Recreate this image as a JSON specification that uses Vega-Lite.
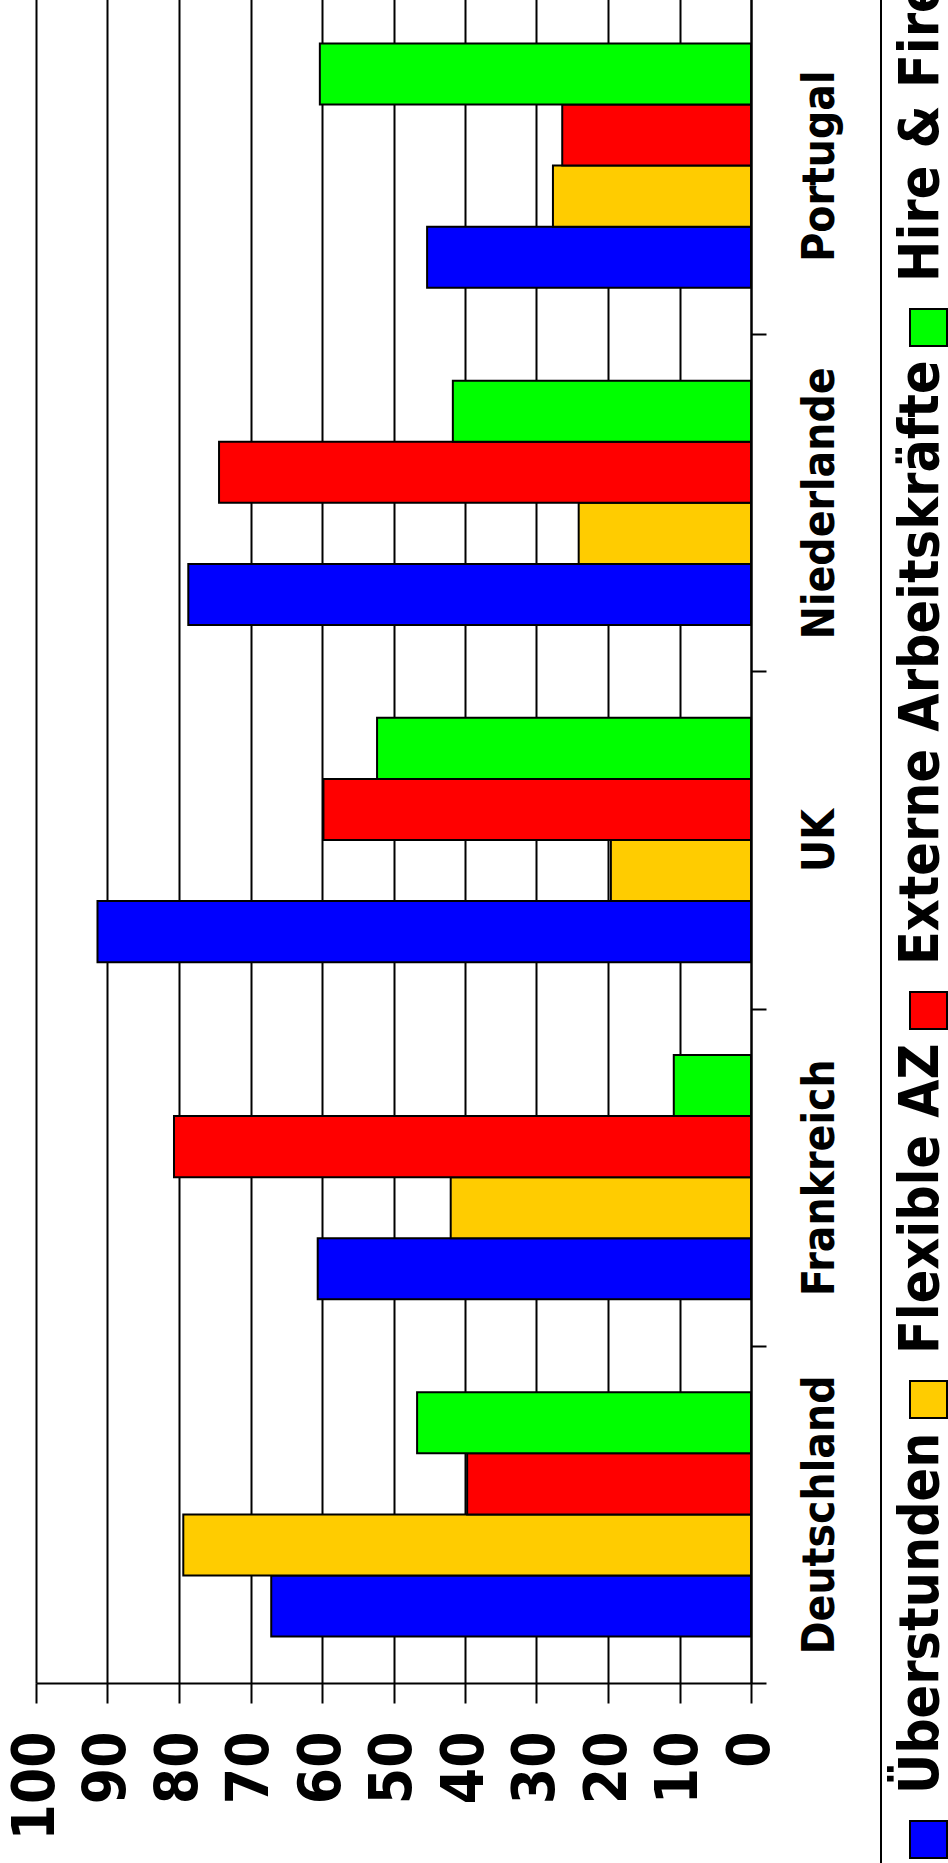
{
  "$schema": "https://vega.github.io/schema/vega-lite/v6.json",
  "autosize": {"type": "none"},
  "width": 715,
  "height": 1686,
  "padding": {"left": 36, "top": -3, "right": 197, "bottom": 180},
  "background": "white",
  "config": {"view": {"stroke": null}, "font": "DejaVu Sans Condensed"},
  "data": {"values": [
    {"Land": "Deutschland", "Art": "Überstunden", "Wert": 67.1},
    {"Land": "Deutschland", "Art": "Flexible AZ", "Wert": 79.4},
    {"Land": "Deutschland", "Art": "Externe Arbeitskräfte", "Wert": 39.7},
    {"Land": "Deutschland", "Art": "Hire & Fire", "Wert": 46.7},
    {"Land": "Frankreich", "Art": "Überstunden", "Wert": 60.6},
    {"Land": "Frankreich", "Art": "Flexible AZ", "Wert": 42.0},
    {"Land": "Frankreich", "Art": "Externe Arbeitskräfte", "Wert": 80.7},
    {"Land": "Frankreich", "Art": "Hire & Fire", "Wert": 10.8},
    {"Land": "UK", "Art": "Überstunden", "Wert": 91.4},
    {"Land": "UK", "Art": "Flexible AZ", "Wert": 19.6},
    {"Land": "UK", "Art": "Externe Arbeitskräfte", "Wert": 59.8},
    {"Land": "UK", "Art": "Hire & Fire", "Wert": 52.3},
    {"Land": "Niederlande", "Art": "Überstunden", "Wert": 78.7},
    {"Land": "Niederlande", "Art": "Flexible AZ", "Wert": 24.1},
    {"Land": "Niederlande", "Art": "Externe Arbeitskräfte", "Wert": 74.4},
    {"Land": "Niederlande", "Art": "Hire & Fire", "Wert": 41.7},
    {"Land": "Portugal", "Art": "Überstunden", "Wert": 45.3},
    {"Land": "Portugal", "Art": "Flexible AZ", "Wert": 27.7},
    {"Land": "Portugal", "Art": "Externe Arbeitskräfte", "Wert": 26.4},
    {"Land": "Portugal", "Art": "Hire & Fire", "Wert": 60.3}
  ]},
  "mark": {"type": "bar", "stroke": "black", "strokeWidth": 2},
  "encoding": {
    "x": {
      "field": "Wert", "type": "quantitative",
      "scale": {"domain": [0, 100], "reverse": true, "nice": false},
      "axis": {
        "orient": "bottom", "title": null, "values": [0, 10, 20, 30, 40, 50, 60, 70, 80, 90, 100],
        "labelAngle": -90, "labelAlign": "right", "labelBaseline": "middle",
        "labelFont": "DejaVu Sans Condensed", "labelFontSize": 58, "labelFontWeight": "bold", "labelColor": "black",
        "labelPadding": 28, "labelFlush": false, "labelOverlap": false,
        "tickSize": 20, "tickColor": "black", "tickWidth": 2,
        "domainColor": "black", "domainWidth": 2,
        "grid": true, "gridColor": "black", "gridWidth": 2, "gridOpacity": 1
      }
    },
    "y": {
      "field": "Land", "type": "nominal",
      "sort": ["Portugal", "Niederlande", "UK", "Frankreich", "Deutschland"],
      "scale": {"paddingInner": 0, "paddingOuter": 0},
      "axis": {
        "orient": "right", "title": null,
        "labelAngle": -90, "labelAlign": "center", "labelBaseline": "top",
        "labelFont": "DejaVu Sans Condensed", "labelFontSize": 44, "labelFontWeight": "bold", "labelColor": "black",
        "labelPadding": 32, "labelLimit": 1000,
        "tickSize": 15, "tickColor": "black", "tickWidth": 2, "tickBand": "extent",
        "domainColor": "black", "domainWidth": 2, "grid": false
      }
    },
    "yOffset": {
      "field": "Art", "type": "nominal",
      "sort": ["Hire & Fire", "Externe Arbeitskräfte", "Flexible AZ", "Überstunden"],
      "scale": {"paddingInner": 0, "paddingOuter": 0.76}
    },
    "color": {
      "field": "Art", "type": "nominal",
      "scale": {
        "domain": [" ", "Hire & Fire", "Externe Arbeitskräfte", "Flexible AZ", "Überstunden"],
        "range": ["transparent", "#00FF00", "#FF0000", "#FFCC00", "#0000FF"]
      },
      "legend": {
        "title": null, "orient": "none", "legendX": 845, "legendY": -98, "direction": "vertical",
        "padding": 20, "strokeColor": "black",
        "symbolType": "square", "symbolSize": 1369, "symbolStrokeColor": "black", "symbolStrokeWidth": 2, "symbolOpacity": 1,
        "labelFont": "DejaVu Sans Condensed", "labelFontSize": 55, "labelFontWeight": "bold", "labelColor": "black",
        "labelLimit": 2000, "rowPadding": 10,
        "encode": {
          "legend": {"update": {"strokeWidth": {"value": 2}}},
          "symbols": {"update": {"stroke": [{"test": "datum.value === ' '", "value": "transparent"}, {"value": "black"}]}},
          "labels": {"update": {
            "angle": {"value": -90}, "align": {"value": "left"}, "baseline": {"value": "alphabetic"},
            "x": {"value": 37}, "y": {"value": -18}
          }}
        }
      }
    }
  }
}
